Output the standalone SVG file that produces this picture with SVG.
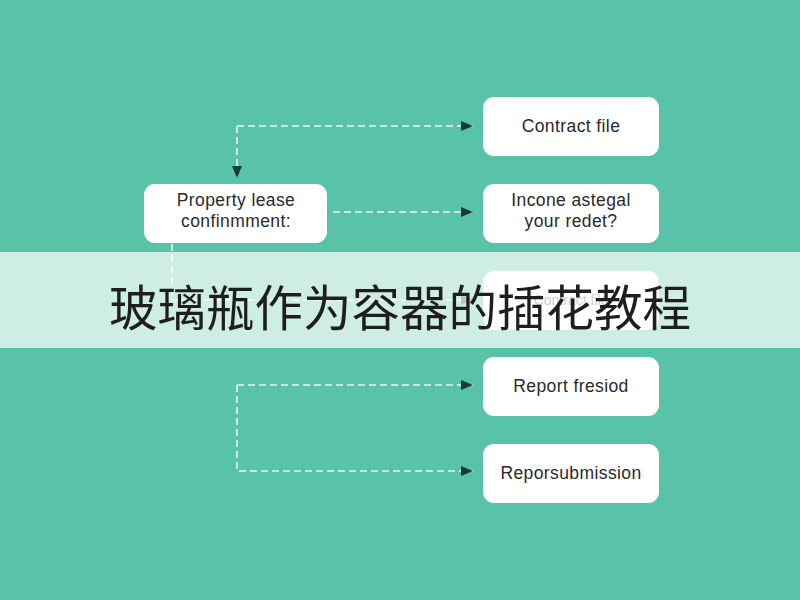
<svg xmlns="http://www.w3.org/2000/svg" width="800" height="600" viewBox="0 0 800 600">
  <defs>
    <style>
      .box { fill: #ffffff; }
      .lbl { font-family: "Liberation Sans", Arial, sans-serif; font-size: 17.5px; letter-spacing: 0.4px; fill: #2a2a2a; text-anchor: middle; }
      .small { font-size: 14px; fill: #555555; letter-spacing: 0; }
      .conn { fill: none; stroke: #e4f6f0; stroke-width: 1.6; stroke-dasharray: 7 4; }
      .title { font-family: "Noto Sans CJK SC", "Noto Sans", sans-serif; font-size: 48.5px; fill: #1e1e1e; text-anchor: middle; }
    </style>
    <marker id="arr" viewBox="0 0 12 10" refX="12" refY="5" markerWidth="12" markerHeight="10" markerUnits="userSpaceOnUse" orient="auto">
      <path d="M0,0 L12,5 L0,10 Z" fill="#173d33"/>
    </marker>
  </defs>
  <rect x="0" y="0" width="800" height="600" fill="#58c3a9"/>

  <g id="connectors">
    <path class="conn" d="M237,126 H473" marker-end="url(#arr)"/>
    <path class="conn" d="M237,126 V178" marker-end="url(#arr)"/>
    <path class="conn" d="M333,212 H473" marker-end="url(#arr)"/>
    <path class="conn" d="M172,244 V300 H473" marker-end="url(#arr)"/>
    <path class="conn" d="M237,385 H473" marker-end="url(#arr)"/>
    <path class="conn" d="M237,385 V471 H473" marker-end="url(#arr)"/>
  </g>

  <g id="node-contract">
    <rect class="box" x="483" y="97" width="176" height="59" rx="11"/>
    <text class="lbl" x="571" y="132">Contract file</text>
  </g>
  <g id="node-property">
    <rect class="box" x="144" y="184" width="183" height="59" rx="11"/>
    <text class="lbl" x="236" y="206">Property lease</text>
    <text class="lbl" x="236" y="227">confinmment:</text>
  </g>
  <g id="node-income">
    <rect class="box" x="483" y="184" width="176" height="59" rx="11"/>
    <text class="lbl" x="571" y="206">Incone astegal</text>
    <text class="lbl" x="571" y="227">your redet?</text>
  </g>
  <g id="node-hidden">
    <rect class="box" x="483" y="271" width="176" height="59" rx="11"/>
    <text class="lbl small" x="571" y="305">Contract file</text>
  </g>
  <g id="node-report-period">
    <rect class="box" x="483" y="357" width="176" height="59" rx="11"/>
    <text class="lbl" x="571" y="392">Report fresiod</text>
  </g>
  <g id="node-report-submission">
    <rect class="box" x="483" y="444" width="176" height="59" rx="11"/>
    <text class="lbl" x="571" y="479">Reporsubmission</text>
  </g>

  <g id="banner">
    <rect x="0" y="252" width="800" height="96" fill="#ffffff" fill-opacity="0.7"/>
    <text class="title" x="400" y="326">玻璃瓶作为容器的插花教程</text>
  </g>
</svg>
